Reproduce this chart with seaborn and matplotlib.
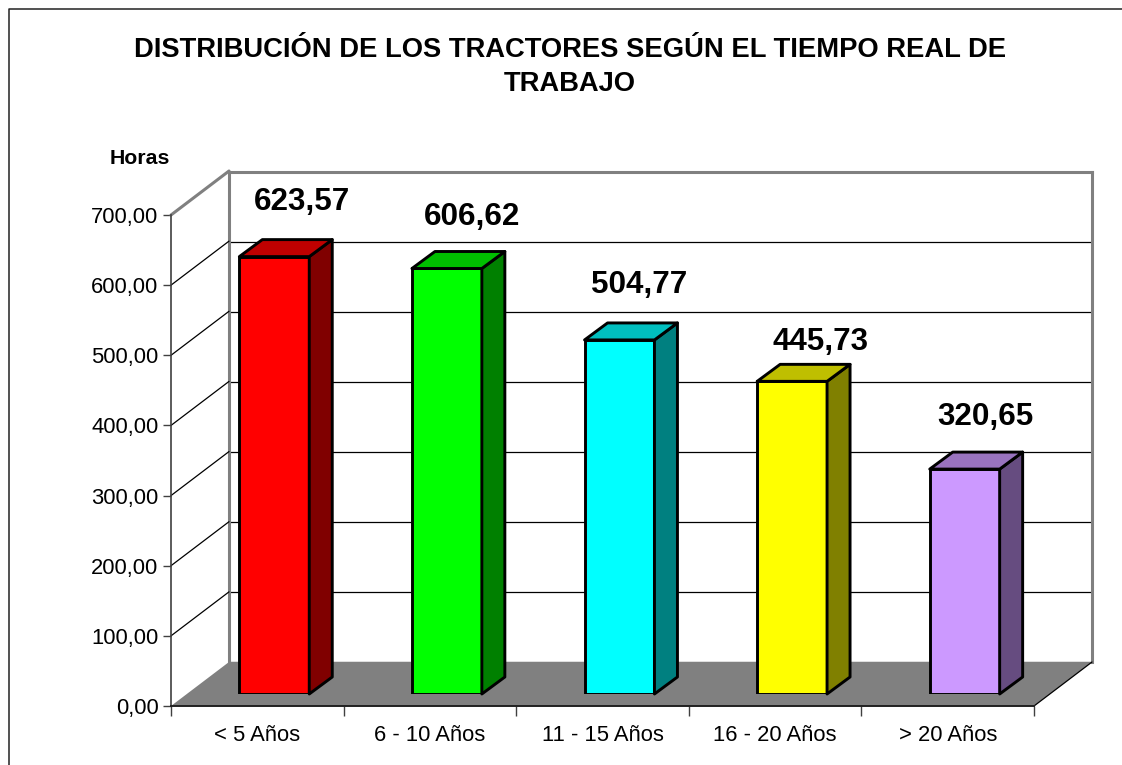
import matplotlib
matplotlib.use('Agg')
import matplotlib.pyplot as plt
import seaborn as sns
from matplotlib.lines import Line2D
from matplotlib.patches import Polygon

categorias = ['< 5 Años', '6 - 10 Años', '11 - 15 Años', '16 - 20 Años', '> 20 Años']
horas = [623.57, 606.62, 504.77, 445.73, 320.65]
etiquetas = ['623,57', '606,62', '504,77', '445,73', '320,65']
ticks_y = [0, 100, 200, 300, 400, 500, 600, 700]
ticks_y_txt = ['0,00', '100,00', '200,00', '300,00', '400,00', '500,00', '600,00', '700,00']

colores = ['#FF0000', '#00FF00', '#00FFFF', '#FFFF00', '#CC99FF']
colores_lado = ['#800000', '#008000', '#008080', '#808000', '#664C80']
colores_top = ['#BF0000', '#00BF00', '#00BFBF', '#BFBF00', '#9973BF']
desp_etiquetas = [(28, 55), (25, 51), (20, 55), (28, 39), (21, 52)]  # en pixeles

W, H = 1122, 765
GRIS = '#808080'

sns.set_theme(style='white')
plt.rcParams['font.family'] = ['Liberation Sans', 'DejaVu Sans']


def rect(izq, arr, der, aba):
    # caja en pixeles de la imagen -> fraccion de figura
    return [izq / W, 1 - aba / H, (der - izq) / W, (aba - arr) / H]


fig = plt.figure(figsize=(W / 100, H / 100), dpi=100, facecolor='white')

# pared del fondo con la grilla
ax_pared = fig.add_axes(rect(229, 172, 1092, 662), zorder=1)
ax_pared.set_xlim(-0.5, 4.5)
ax_pared.set_ylim(0, 700)
ax_pared.set_xticks([])
ax_pared.set_yticks(ticks_y)
ax_pared.set_yticklabels([])
ax_pared.tick_params(length=0)
ax_pared.grid(axis='y', color='black', linewidth=0.9)
ax_pared.spines['bottom'].set_visible(False)
for lado in ['left', 'top', 'right']:
    ax_pared.spines[lado].set_color(GRIS)
    ax_pared.spines[lado].set_linewidth(2.2)

# plano frontal: ejes, piso y diagonales
ax = fig.add_axes(rect(171, 215, 1034, 706), zorder=2)
ax.patch.set_alpha(0)
ax.set_xlim(-0.5, 4.5)
ax.set_ylim(0, 700)
prof_x = 58 / (863 / 5)
prof_y = 44 / (491 / 700)
ax.add_patch(Polygon([(-0.5, 0), (4.5, 0), (4.5 + prof_x, prof_y), (-0.5 + prof_x, prof_y)],
                     closed=True, facecolor=GRIS, edgecolor='none', clip_on=False, zorder=1))
for t in ticks_y[1:-1]:
    ax.plot([-0.5, -0.5 + prof_x], [t, t + prof_y], color='black', lw=0.9, clip_on=False, zorder=2)
ax.plot([-0.5, -0.5 + prof_x], [700, 700 + prof_y], color=GRIS, lw=2.2, clip_on=False, zorder=2)
ax.plot([4.5, 4.5 + prof_x], [0, prof_y], color='black', lw=0.9, clip_on=False, zorder=2)
ax.set_yticks(ticks_y)
ax.set_yticklabels(ticks_y_txt, fontsize=15.8, color='black')
ax.set_xticks([-0.5, 0.5, 1.5, 2.5, 3.5, 4.5])
ax.set_xticklabels([])
ax.set_xticks(range(5), categorias, minor=True, fontsize=15.8, color='black')
ax.tick_params(axis='x', which='major', length=7, width=1, color='#404040', bottom=True)
ax.tick_params(axis='x', which='minor', length=0, pad=13.5, bottom=True)
ax.tick_params(axis='y', length=6, width=1, color='#404040', pad=3, left=True)
ax.spines['top'].set_visible(False)
ax.spines['right'].set_visible(False)
ax.spines['left'].set_color('#404040')
ax.spines['left'].set_linewidth(1.2)
ax.spines['bottom'].set_color('#202020')
ax.spines['bottom'].set_linewidth(1.4)

# barras
ax_barras = fig.add_axes(rect(188, 203, 1051, 694), zorder=3)
sns.barplot(x=categorias, y=horas, hue=categorias, palette=colores, width=0.405, saturation=1,
            edgecolor='black', linewidth=2.1, legend=False, dodge=False, ax=ax_barras)
ax_barras.set_xlim(-0.5, 4.5)
ax_barras.set_ylim(0, 700)
ax_barras.set_axis_off()
bar_x = 23 / (863 / 5)
bar_y = 17 / (491 / 700)
for i, barra in enumerate(ax_barras.patches[:5]):
    x0 = barra.get_x()
    x1 = x0 + barra.get_width()
    alto = barra.get_height()
    ax_barras.add_patch(Polygon([(x1, 0), (x1 + bar_x, bar_y), (x1 + bar_x, alto + bar_y), (x1, alto)],
                                closed=True, facecolor=colores_lado[i], edgecolor='black',
                                linewidth=2.1, joinstyle='round', clip_on=False))
    ax_barras.add_patch(Polygon([(x0, alto), (x0 + bar_x, alto + bar_y), (x1 + bar_x, alto + bar_y), (x1, alto)],
                                closed=True, facecolor=colores_top[i], edgecolor='black',
                                linewidth=2.1, joinstyle='round', clip_on=False))
    ax_barras.annotate(etiquetas[i], xy=(i, alto), xytext=desp_etiquetas[i], textcoords='offset pixels',
                       ha='center', va='center', fontsize=22.6, fontweight='bold', color='black',
                       annotation_clip=False)

# textos sueltos y marco
fig.text(570 / W, 1 - 50 / H, 'DISTRIBUCIÓN DE LOS TRACTORES SEGÚN EL TIEMPO REAL DE',
         ha='center', va='center', fontsize=19.7, fontweight='bold', color='black')
fig.text(570 / W, 1 - 84 / H, 'TRABAJO', ha='center', va='center', fontsize=19.7,
         fontweight='bold', color='black')
fig.text(139.5 / W, 1 - 159 / H, 'Horas', ha='center', va='center', fontsize=15.3,
         fontweight='bold', color='black')
fig.add_artist(Line2D([8.5 / W, 8.5 / W, 1], [0, 1 - 8.5 / H, 1 - 8.5 / H], color='#222222', lw=1.1))

fig.savefig('out.png', dpi=100)
